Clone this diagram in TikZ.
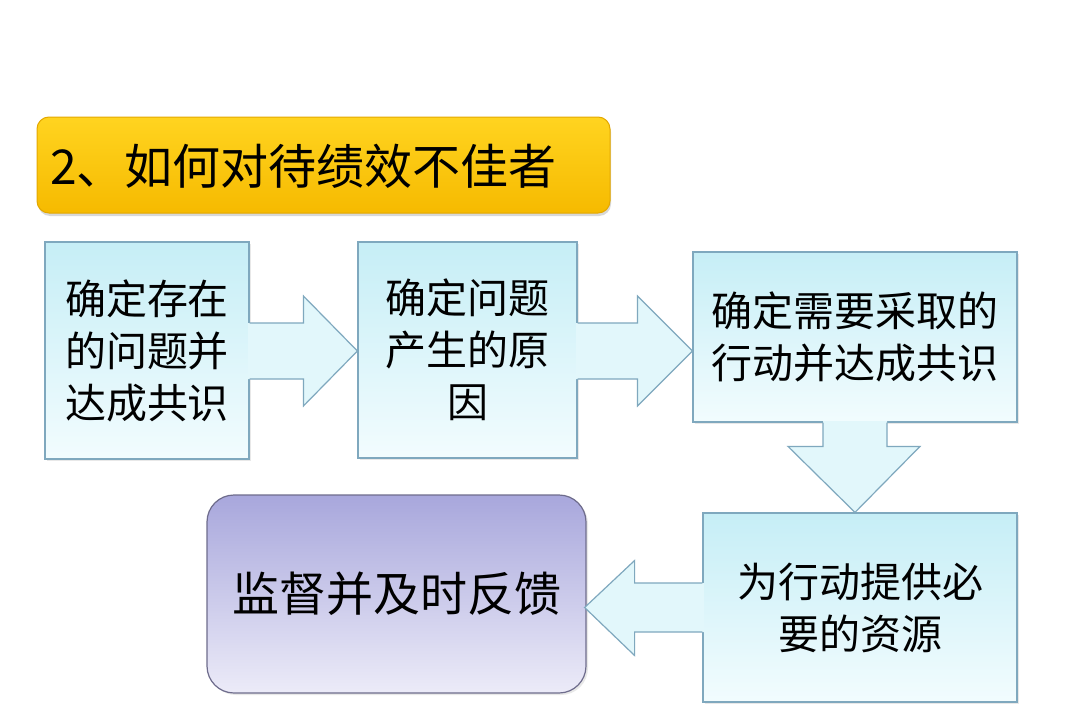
\documentclass[tikz,border=0pt]{standalone}
\usepackage{fontspec}
\setmainfont{Noto Sans CJK SC}
\usetikzlibrary{calc,shadows}
\definecolor{boxedge}{HTML}{7FA8BE}
\definecolor{boxtop}{HTML}{C6EEF6}
\definecolor{boxbot}{HTML}{F2FCFE}
\definecolor{arrfill}{HTML}{E2F7FB}
\definecolor{purtop}{HTML}{A8A7DC}
\definecolor{purbot}{HTML}{ECEBF8}
\definecolor{puredge}{HTML}{6E6C8C}
\definecolor{titletop}{HTML}{FFD420}
\definecolor{titlebot}{HTML}{F6BA00}
\definecolor{titleedge}{HTML}{E4A800}
\tikzset{
  stepbox/.style={draw=boxedge, line width=1.2pt, top color=boxtop, bottom color=boxbot,
    inner sep=0pt, align=center, font=\fontsize{41}{52}\selectfont,
    drop shadow={opacity=0.18, shadow xshift=2pt, shadow yshift=-2pt}},
  blockarrow/.style={draw=boxedge, line width=1.2pt, line join=miter},
  arrowbody/.style={fill=arrfill},
  titlebox/.style={draw=titleedge, line width=1pt, rounded corners=12pt,
    top color=titletop, bottom color=titlebot, inner sep=0pt,
    drop shadow={opacity=0.3, shadow xshift=1pt, shadow yshift=-3pt}},
  endbox/.style={draw=puredge, line width=1.2pt, rounded corners=27pt,
    top color=purtop, bottom color=purbot, inner sep=0pt, align=center,
    font=\fontsize{47}{56}\selectfont,
    drop shadow={opacity=0.18, shadow xshift=2pt, shadow yshift=-2pt}}
}
\begin{document}
\begin{tikzpicture}[x=1pt,y=-1pt]
\useasboundingbox (0,0) rectangle (1080,728);
\fill[white] (0,0) rectangle (1080,728);

% title
\node[titlebox, minimum width=573pt, minimum height=96pt] (title) at (323.5,165) {};
\node[anchor=west, inner sep=0pt, font=\fontsize{48}{56}\selectfont] (titletext) at (50,166) {2、如何对待绩效不佳者};

% boxes
\node[stepbox, minimum width=204pt, minimum height=217pt] (b1) at (147,350.5) {确定存在\\的问题并\\达成共识};
\node[stepbox, minimum width=219pt, minimum height=216pt] (b2) at (467.5,350) {确定问题\\产生的原\\因};
\node[stepbox, minimum width=324pt, minimum height=170pt] (b3) at (855,337) {确定需要采取的\\行动并达成共识};
\node[stepbox, minimum width=314pt, minimum height=189pt] (b4) at (860,607.5) {为行动提供必\\要的资源};
\node[endbox, minimum width=379pt, minimum height=198pt] (b5) at (396.5,594) {监督并及时反馈};

% arrow b1 -> b2
\coordinate (a1s) at (b1.east |- 0,351);
\coordinate (a1t) at (b2.west |- 0,351);
\fill[arrowbody] ($(a1s)+(-1.5,-28)$) -- ($(a1t)+(-54,-28)$) -- ($(a1t)+(-54,-55)$) -- (a1t)
  -- ($(a1t)+(-54,55)$) -- ($(a1t)+(-54,28)$) -- ($(a1s)+(-1.5,28)$) -- cycle;
\draw[blockarrow]
  ($(a1s)+(0,-28)$) -- ($(a1t)+(-54,-28)$) -- ($(a1t)+(-54,-55)$) -- (a1t)
  -- ($(a1t)+(-54,55)$) -- ($(a1t)+(-54,28)$) -- ($(a1s)+(0,28)$);

% arrow b2 -> b3
\coordinate (a2s) at (b2.east |- 0,351);
\coordinate (a2t) at (b3.west |- 0,351);
\fill[arrowbody] ($(a2s)+(-1.5,-28)$) -- ($(a2t)+(-55,-28)$) -- ($(a2t)+(-55,-55)$) -- (a2t)
  -- ($(a2t)+(-55,55)$) -- ($(a2t)+(-55,28)$) -- ($(a2s)+(-1.5,28)$) -- cycle;
\draw[blockarrow]
  ($(a2s)+(0,-28)$) -- ($(a2t)+(-55,-28)$) -- ($(a2t)+(-55,-55)$) -- (a2t)
  -- ($(a2t)+(-55,55)$) -- ($(a2t)+(-55,28)$) -- ($(a2s)+(0,28)$);

% arrow b3 -> b4
\coordinate (a3s) at (b3.south);
\coordinate (a3t) at (b3.south |- b4.north);
\fill[arrowbody] ($(a3s)+(-32,-1.5)$) -- ($(a3t)+(-32,-66)$) -- ($(a3t)+(-67,-66)$) -- (a3t)
  -- ($(a3t)+(65,-66)$) -- ($(a3t)+(32,-66)$) -- ($(a3s)+(32,-1.5)$) -- cycle;
\draw[blockarrow]
  ($(a3s)+(-32,0)$) -- ($(a3t)+(-32,-66)$) -- ($(a3t)+(-67,-66)$) -- (a3t)
  -- ($(a3t)+(65,-66)$) -- ($(a3t)+(32,-66)$) -- ($(a3s)+(32,0)$);

% arrow b4 -> b5
\coordinate (a4s) at (b4.west);
\coordinate (a4t) at (b5.east |- b4.west);
\fill[arrowbody] ($(a4s)+(1.5,-24.5)$) -- ($(a4t)+(48,-24.5)$) -- ($(a4t)+(48,-47)$) -- ($(a4t)+(-2,0)$)
  -- ($(a4t)+(48,48)$) -- ($(a4t)+(48,24.5)$) -- ($(a4s)+(1.5,24.5)$) -- cycle;
\draw[blockarrow]
  ($(a4s)+(0,-24.5)$) -- ($(a4t)+(48,-24.5)$) -- ($(a4t)+(48,-47)$) -- ($(a4t)+(-2,0)$)
  -- ($(a4t)+(48,48)$) -- ($(a4t)+(48,24.5)$) -- ($(a4s)+(0,24.5)$);
\end{tikzpicture}
\end{document}
